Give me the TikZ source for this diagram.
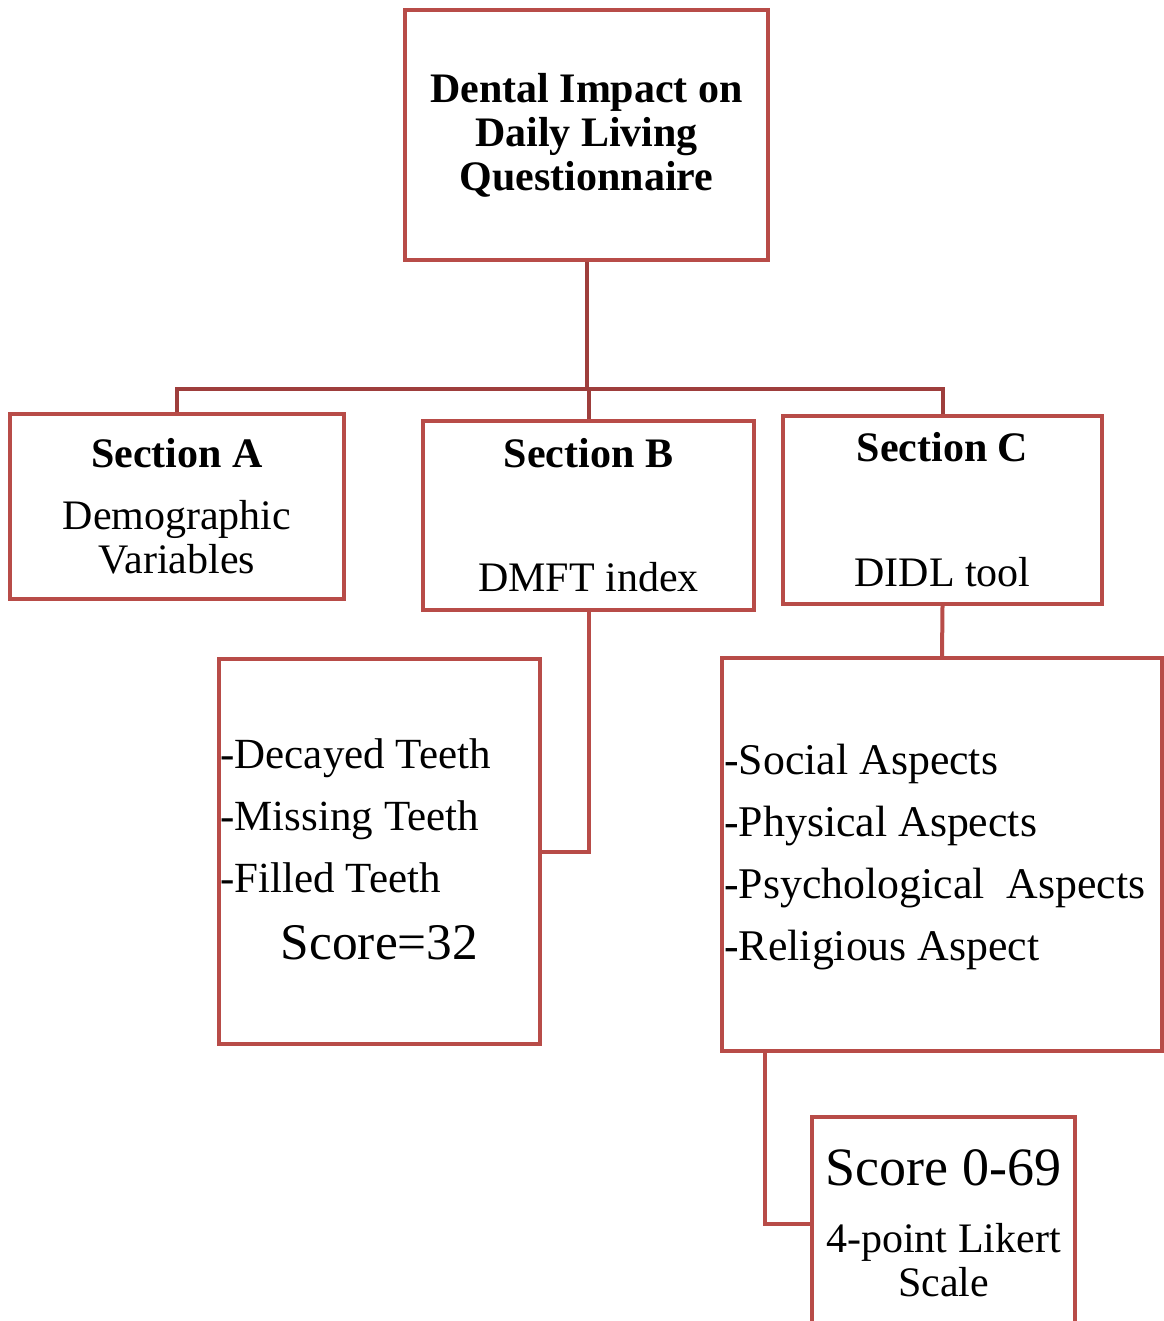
\documentclass[tikz,border=0pt]{standalone}
\usepackage{fontspec}
\setmainfont{Liberation Serif}
\usetikzlibrary{positioning}
\definecolor{boxred}{RGB}{184,76,72}
\definecolor{treered}{RGB}{158,62,60}

\begin{document}
\begin{tikzpicture}[
    x=0.5pt, y=-0.5pt,
    every node/.style={font=\fontsize{21}{22}\selectfont},
    box/.style={
        draw=boxred,
        line width=2pt,
        align=center,
        inner sep=0pt
    },
    items/.style={align=left, inner sep=0pt, anchor=west, font=\fontsize{21.5}{31}\selectfont},
    tree/.style={draw=treered, line width=2pt},
    link/.style={draw=boxred, line width=2pt}
]
\useasboundingbox (0,0) rectangle (1163,1321);

% Questionnaire title
\node[box, minimum width=181.5pt, minimum height=125pt,
      font=\fontsize{21}{22}\selectfont\bfseries] (didlq) at (586.5,135)
      {Dental Impact on\\Daily Living\\Questionnaire};

% The three sections
\node[box, minimum width=167pt, minimum height=92.5pt] (secA) at (177,506.5)
      {\textbf{Section A}\\[9pt]Demographic\\Variables};
\node[box, minimum width=165.5pt, minimum height=94.5pt] (secB) at (588.5,515.5)
      {\textbf{Section B}\\[40pt]DMFT index};
\node[box, minimum width=159.5pt, minimum height=94pt] (secC) at (942.5,510)
      {\textbf{Section C}\\[40.5pt]DIDL tool};

% DMFT components
\node[box, minimum width=160.5pt, minimum height=192.5pt] (dmft) at (379.5,851.5) {};
\node[items] (dmftitems) at ([xshift=1.5pt,yshift=17.75pt]dmft.west)
      {-Decayed Teeth\\-Missing Teeth\\-Filled Teeth};
\node[font=\fontsize{25.7}{28}\selectfont] (dmftscore) at ([yshift=-45.75pt]dmft.center) {Score=32};

% DIDL aspects
\node[box, minimum width=220pt, minimum height=196.5pt] (didl) at (942,854.5) {};
\node[items, font=\fontsize{21.9}{31}\selectfont] (didlitems) at ([xshift=2pt,yshift=-1.5pt]didl.west)
      {-Social Aspects\\-Physical Aspects\\-Psychological\ \ Aspects\\-Religious Aspect};

% DIDL score
\node[box, minimum width=131.5pt, minimum height=106.5pt] (score) at (943.5,1223.5)
      {{\fontsize{27}{30}\selectfont Score 0-69}\\[11.5pt]4-point Likert\\Scale};

% Tree from title to sections
\coordinate (hub) at (586.5,389);
\draw[tree] (didlq.south) -- (hub);
\draw[tree] (secA.north) |- (hub);
\draw[tree] (secC.north) |- (hub);
\draw[tree] (secB.north) -- (secB.north |- hub);

% Sections to their contents
\draw[link] (secB.south) |- (dmft.east);
\draw[link] (secC.south) -- (didl.north);
\draw[link] ([xshift=22.5pt]didl.south west) |- (score.west);

\end{tikzpicture}
\end{document}
